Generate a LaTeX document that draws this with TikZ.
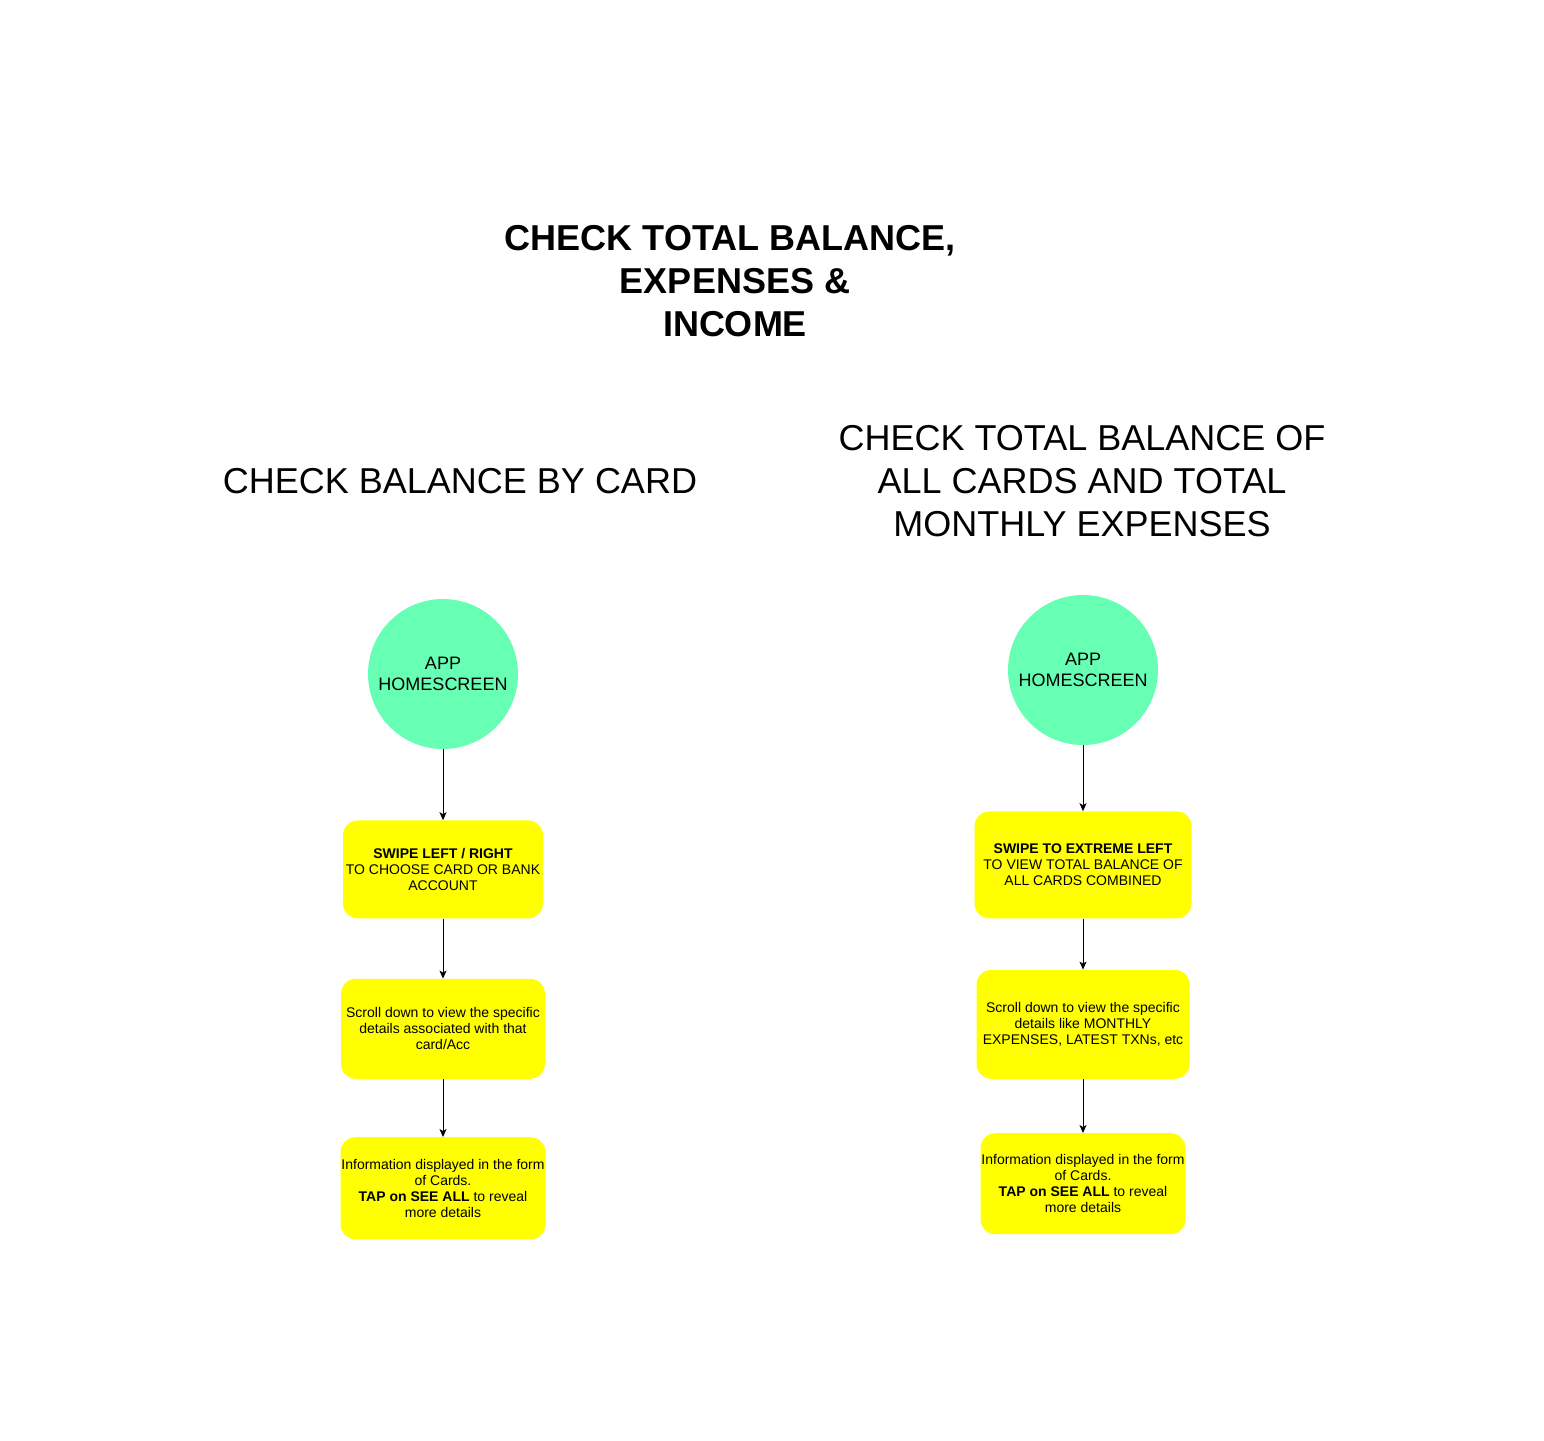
\documentclass[tikz,border=0pt]{standalone}
\usepackage{fontspec}
\setmainfont{Liberation Sans}
\usepackage{xcolor}
\usetikzlibrary{positioning, arrows.meta}

\definecolor{mint}{HTML}{66FFB3}
\definecolor{signyellow}{HTML}{FFFF00}

\begin{document}
\begin{tikzpicture}[x=1pt, y=-1pt, node distance=60pt]
        % Define a style for the nodes
        \tikzstyle{homescreen} = [circle, fill=mint, minimum size=150pt, inner sep=0pt, align=center, font=\fontsize{18}{21}\selectfont]
        \tikzstyle{stepbox} = [rectangle, fill=signyellow, rounded corners=15pt, inner sep=0pt, align=center, font=\fontsize{14}{16}\selectfont]
        \tikzstyle{heading} = [align=center, font=\fontsize{36}{43}\selectfont]
        \tikzstyle{arrow} = [-{Stealth[length=8pt, width=7pt, inset=2pt]}, line width=1pt]

        \useasboundingbox (0,0) rectangle (1544,1440);

        % Headings
        \node (title) [heading, font=\fontsize{36}{43}\selectfont\bfseries] at (730,281) {CHECK TOTAL BALANCE,\\\hspace*{10pt}EXPENSES \&\\\hspace*{10pt}INCOME};
        \node (lhead) [heading] at (460,481) {CHECK BALANCE BY CARD};
        \node (rhead) [heading] at (1082,481) {CHECK TOTAL BALANCE OF\\ALL CARDS AND TOTAL\\MONTHLY EXPENSES};

        % Nodes - by card
        \node (lhome) [homescreen] at (443,674) {APP\\HOMESCREEN};
        \node (lswipe) [stepbox, minimum width=200pt, minimum height=98pt, below=71pt of lhome] {\textbf{SWIPE LEFT / RIGHT}\\TO CHOOSE CARD OR BANK\\ACCOUNT};
        \node (lscroll) [stepbox, minimum width=204pt, minimum height=100pt, below=60pt of lswipe] {Scroll down to view the specific\\details associated with that\\card/Acc};
        \node (linfo) [stepbox, minimum width=205pt, minimum height=102pt, below=58pt of lscroll] {Information displayed in the form\\of Cards.\\\textbf{TAP on SEE ALL} to reveal\\more details};

        % Nodes - all cards
        \node (rhome) [homescreen] at (1083,670) {APP\\HOMESCREEN};
        \node (rswipe) [stepbox, minimum width=217pt, minimum height=107pt, below=66pt of rhome] {\textbf{SWIPE TO EXTREME LEFT}\\TO VIEW TOTAL BALANCE OF\\ALL CARDS COMBINED};
        \node (rscroll) [stepbox, minimum width=213pt, minimum height=109pt, below=51pt of rswipe] {Scroll down to view the specific\\details like MONTHLY\\EXPENSES, LATEST TXNs, etc};
        \node (rinfo) [stepbox, minimum width=205pt, minimum height=101pt, below=54pt of rscroll] {Information displayed in the form\\of Cards.\\\textbf{TAP on SEE ALL} to reveal\\more details};

        % Edges
        \draw [arrow] (lhome) -- (lswipe);
        \draw [arrow] (lswipe) -- (lscroll);
        \draw [arrow] (lscroll) -- (linfo);
        \draw [arrow] (rhome) -- (rswipe);
        \draw [arrow] (rswipe) -- (rscroll);
        \draw [arrow] (rscroll) -- (rinfo);
\end{tikzpicture}
\end{document}
